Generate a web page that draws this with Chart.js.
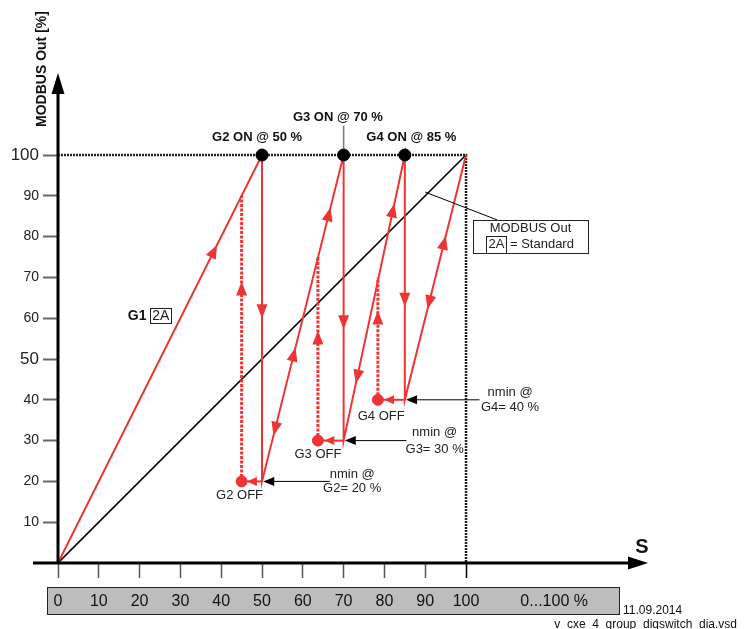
<!doctype html>
<html>
<head>
<title>Group switching G1..G4</title>
<script src="https://cdn.jsdelivr.net/npm/chart.js@4.4.0/dist/chart.umd.min.js"></script>
<style>
body { margin: 0; background: #fff; }
#holder { width: 752px; height: 629px; }
</style>
</head>
<body>
<div id="holder"><canvas id="chart-area"></canvas></div>
<script>
// S axis (0..100 %) and MODBUS Out tick labels
var sTicks = [0, 10, 20, 30, 40, 50, 60, 70, 80, 90, 100];
var outTicks = [10, 20, 30, 40, 50, 60, 70, 80, 90, 100];

// standard characteristic, MODBUS Out = S
var stdS = [0, 100];
var stdOut = [0, 100];

// G1 ramp, then the ramp after each group switch (S, MODBUS Out)
var rampS = [0, 50, 50, 70, 70, 85, 85, 100];
var rampOut = [0, 100, 20, 100, 30, 100, 40, 100];

// groups G2..G4
var groupNames = ['G2', 'G3', 'G4'];
var onS = [50, 70, 85];        // switch on at MODBUS Out 100 %
var nminOut = [20, 30, 40];    // nmin per group
var offS = [45, 63.7, 78.4];   // S of the OFF point
var backOut = [90, 75, 70];    // top of the dotted return line

// arrowheads on the red lines: fromS, fromOut, toS, toOut, position along segment
var redArrows = [
    [0, 0, 50, 100, 0.78],
    [50, 100, 50, 20, 0.5],
    [50, 20, 45, 20, 0.74],
    [45, 20, 45, 90, 0.7],
    [70, 100, 50, 20, 0.86],
    [50, 20, 70, 100, 0.41],
    [50, 20, 70, 100, 0.84],
    [70, 100, 70, 30, 0.61],
    [70, 30, 63.7, 30, 0.75],
    [63.7, 30, 63.7, 75, 0.6],
    [85, 100, 70, 30, 0.8],
    [70, 30, 85, 100, 0.83],
    [85, 100, 85, 40, 0.62],
    [85, 40, 78.4, 40, 0.77],
    [78.4, 40, 78.4, 70, 0.73],
    [100, 100, 85, 40, 0.63],
    [85, 40, 100, 100, 0.67]
];

var RED = '#ee3434';
var FONT = '"Liberation Sans", Arial, sans-serif';

function pts(xs, ys) {
    return xs.map(function(v, i) { return {x: v, y: ys[i]}; });
}

var datasets = [];
datasets.push({data: pts(stdS, stdOut), borderColor: '#000', borderWidth: 1.6, order: 5});
datasets.push({data: pts([0, 100, 100], [100, 100, 0]), borderColor: '#222', borderWidth: 2.5, borderDash: [2, 1], order: 6});
datasets.push({data: pts(rampS, rampOut), borderColor: RED, borderWidth: 2, order: 3});
for (var i = 0; i < groupNames.length; i++) {
    datasets.push({data: pts([onS[i], offS[i]], [nminOut[i], nminOut[i]]), borderColor: RED, borderWidth: 2, order: 3});
    datasets.push({data: pts([offS[i], offS[i]], [nminOut[i], backOut[i]]), borderColor: RED, borderWidth: 3, borderDash: [3, 1.5], order: 4});
}
datasets.push({data: pts(offS, nminOut), showLine: false, pointRadius: 5.5, backgroundColor: RED, borderColor: RED, order: 1});
datasets.push({data: pts(onS, [100, 100, 100]), showLine: false, pointRadius: 6, backgroundColor: '#000', borderColor: '#000', order: 1});
datasets.forEach(function(d) {
    if (d.showLine === undefined) { d.showLine = true; d.pointRadius = 0; }
    d.fill = false;
});

function P(chart, s, o) {
    return {x: chart.scales.x.getPixelForValue(s), y: chart.scales.y.getPixelForValue(o)};
}
function head(ctx, tip, from, len, half, color) {
    var a = Math.atan2(tip.y - from.y, tip.x - from.x);
    ctx.save();
    ctx.translate(tip.x, tip.y);
    ctx.rotate(a);
    ctx.fillStyle = color;
    ctx.beginPath();
    ctx.moveTo(0, 0);
    ctx.lineTo(-len, -half);
    ctx.lineTo(-len, half);
    ctx.closePath();
    ctx.fill();
    ctx.restore();
}
function txt(ctx, s, p, font, align, color) {
    ctx.font = font;
    ctx.fillStyle = color || '#222';
    ctx.textAlign = align || 'center';
    ctx.textBaseline = 'middle';
    ctx.fillText(s, p.x, p.y);
}
function line(ctx, a, b, color, w) {
    ctx.strokeStyle = color;
    ctx.lineWidth = w;
    ctx.beginPath();
    ctx.moveTo(a.x, a.y);
    ctx.lineTo(b.x, b.y);
    ctx.stroke();
}

var decor = {
    id: 'decor',
    beforeDraw: function(chart) {
        var ctx = chart.ctx, b = chart.chartArea.bottom;
        ctx.save();
        ctx.fillStyle = '#fff';
        ctx.fillRect(0, 0, chart.width, chart.height);
        var l = chart.scales.x.getPixelForValue(-2.7), r = chart.scales.x.getPixelForValue(137.5);
        ctx.fillStyle = '#bdbdbd';
        ctx.fillRect(l, b + 24, r - l, 27);
        ctx.strokeStyle = '#222';
        ctx.lineWidth = 1;
        ctx.strokeRect(Math.round(l) + 0.5, b + 24.5, Math.round(r - l), 27);
        ctx.restore();
    },
    afterDraw: function(chart) {
        var ctx = chart.ctx, a = chart.chartArea;
        ctx.save();
        var o = P(chart, 0, 0);

        // axes with arrowheads
        line(ctx, {x: 33, y: o.y}, {x: a.right - 16, y: o.y}, '#000', 3);
        head(ctx, {x: a.right, y: o.y}, o, 20, 6.5, '#000');
        line(ctx, o, {x: o.x, y: a.top + 16}, '#000', 3);
        head(ctx, {x: o.x, y: a.top}, o, 21, 6.5, '#000');

        ctx.save();
        ctx.translate(42, 69);
        ctx.rotate(-Math.PI / 2);
        txt(ctx, 'MODBUS Out [%]', {x: 0, y: 0}, 'bold 14px ' + FONT, 'center', '#111');
        ctx.restore();
        txt(ctx, 'S', {x: a.right - 6, y: o.y - 16}, 'bold 20px ' + FONT, 'center', '#111');

        // scale box text and file stamp
        var bx = chart.scales.x.getPixelForValue(121.6);
        txt(ctx, '0...100 %', {x: bx, y: a.bottom + 39}, '16px ' + FONT, 'center', '#111');
        txt(ctx, '11.09.2014', {x: 623, y: a.bottom + 48}, '12px ' + FONT, 'left', '#111');
        txt(ctx, 'v_cxe_4_group_digswitch_dia.vsd', {x: 737, y: a.bottom + 62}, '12px ' + FONT, 'right', '#111');

        // arrowheads on the red lines
        redArrows.forEach(function(r) {
            var f = P(chart, r[0], r[1]);
            var tip = P(chart, r[0] + (r[2] - r[0]) * r[4], r[1] + (r[3] - r[1]) * r[4]);
            var horiz = r[1] === r[3];
            head(ctx, tip, f, horiz ? 10 : 14, horiz ? 4.5 : 5.5, RED);
        });

        // nmin callouts
        var nEnd = [66.6, 85.4, 103.3];
        var nTxt = [[72.1, 21.8, 18.2], [92.3, 31.9, 27.8], [110.8, 41.7, 38.1]];
        var offTxt = [[44.5, 16.6], [63.7, 26.6], [79.2, 35.9]];
        for (var i = 0; i < groupNames.length; i++) {
            var tip = P(chart, onS[i] + 0.3, nminOut[i]);
            var end = P(chart, nEnd[i], nminOut[i]);
            line(ctx, {x: tip.x + 8, y: tip.y}, end, '#000', 1);
            head(ctx, tip, end, 11, 4.5, '#000');
            txt(ctx, 'nmin @', P(chart, nTxt[i][0], nTxt[i][1]), '13px ' + FONT);
            txt(ctx, groupNames[i] + '= ' + nminOut[i] + ' %', P(chart, nTxt[i][0], nTxt[i][2]), '13px ' + FONT);
            txt(ctx, groupNames[i] + ' OFF', P(chart, offTxt[i][0], offTxt[i][1]), '13px ' + FONT);
        }

        // ON labels
        txt(ctx, 'G2 ON @ 50 %', P(chart, 48.8, 104.4), 'bold 13px ' + FONT, 'center', '#111');
        txt(ctx, 'G3 ON @ 70 %', P(chart, 68.6, 109.3), 'bold 13px ' + FONT, 'center', '#111');
        txt(ctx, 'G4 ON @ 85 %', P(chart, 86.6, 104.4), 'bold 13px ' + FONT, 'center', '#111');
        line(ctx, P(chart, 70, 107.2), P(chart, 70, 101.5), '#777', 1.5);

        // G1 label
        txt(ctx, 'G1', P(chart, 19.4, 60.6), 'bold 14px ' + FONT, 'center', '#111');
        var g = P(chart, 22.6, 60.6);
        txt(ctx, '2A', {x: g.x + 10.5, y: g.y}, '14px ' + FONT, 'center', '#222');
        ctx.strokeStyle = '#222';
        ctx.lineWidth = 1;
        ctx.strokeRect(Math.round(g.x) + 0.5, Math.round(g.y) - 7.5, 21, 15);

        // MODBUS Out legend box with leader line
        line(ctx, P(chart, 90, 90.9), P(chart, 107.6, 84.1), '#000', 1);
        var b1 = P(chart, 101.7, 84.1), b2 = P(chart, 129.9, 76);
        ctx.strokeStyle = '#222';
        ctx.lineWidth = 1;
        ctx.strokeRect(Math.round(b1.x) + 0.5, Math.round(b1.y) + 0.5, Math.round(b2.x - b1.x), Math.round(b2.y - b1.y));
        txt(ctx, 'MODBUS Out', {x: (b1.x + b2.x) / 2, y: b1.y + 9}, '13px ' + FONT);
        ctx.strokeRect(Math.round(b1.x) + 13.5, Math.round(b1.y) + 16.5, 20, Math.round(b2.y - b1.y) - 16);
        txt(ctx, '2A', {x: b1.x + 23.5, y: b1.y + 25}, '13px ' + FONT);
        txt(ctx, '= Standard', {x: b1.x + 37, y: b1.y + 24.5}, '13px ' + FONT, 'left');
        ctx.restore();
    }
};

var config = {
    type: 'scatter',
    data: {datasets: datasets},
    options: {
        responsive: true,
        maintainAspectRatio: false,
        animation: false,
        events: [],
        devicePixelRatio: 1,
        layout: {padding: {top: 73, right: 104, left: 0, bottom: 0}},
        plugins: {legend: {display: false}, tooltip: {enabled: false}},
        scales: {
            x: {
                type: 'linear', min: 0, max: 144.6,
                afterBuildTicks: function(s) { s.ticks = sTicks.map(function(v) { return {value: v}; }); },
                afterFit: function(s) { s.height = 66; },
                border: {display: false},
                grid: {
                    drawOnChartArea: false, drawTicks: true, tickLength: 15, tickWidth: 1.5,
                    tickColor: function(c) { return c.tick && c.tick.value === 100 ? '#000' : '#555'; }
                },
                ticks: {font: {family: FONT, size: 16}, color: '#111', padding: 14, maxRotation: 0, autoSkip: false}
            },
            y: {
                type: 'linear', min: 0, max: 120.1,
                afterBuildTicks: function(s) { s.ticks = outTicks.map(function(v) { return {value: v}; }); },
                afterFit: function(s) { s.width = 58; },
                border: {display: false},
                grid: {drawOnChartArea: false, drawTicks: true, tickLength: 15, tickWidth: 2, tickColor: '#666'},
                ticks: {
                    font: function(c) {
                        var big = c.tick && (c.tick.value === 50 || c.tick.value === 100);
                        return {family: FONT, size: big ? 17 : 14};
                    },
                    color: '#222', padding: 4, autoSkip: false
                }
            }
        }
    },
    plugins: [decor]
};

window.onload = function() {
    var ctx = document.getElementById('chart-area').getContext('2d');
    window.myChart = new Chart(ctx, config);
};
</script>
</body>
</html>
